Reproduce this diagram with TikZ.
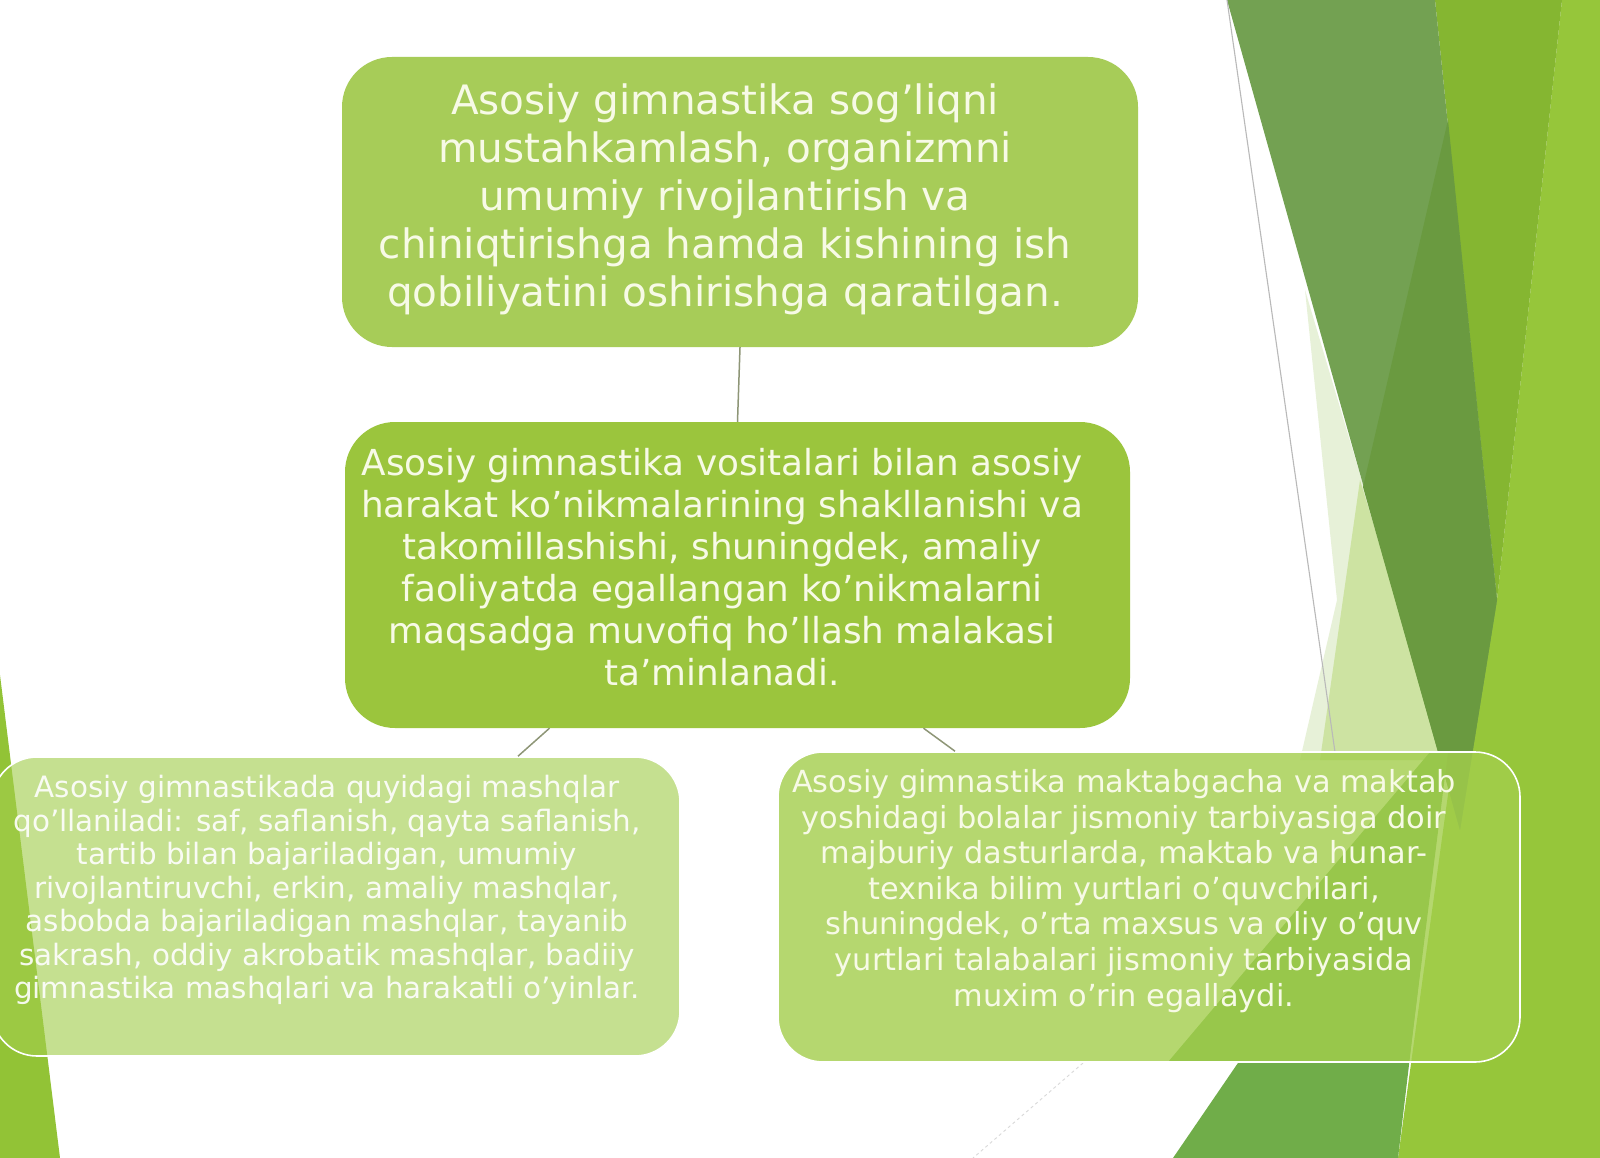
\documentclass[tikz,border=0pt]{standalone}
\usepackage{fontspec}
\setmainfont{DejaVu Sans}
\usetikzlibrary{calc}
\definecolor{topgreen}{HTML}{A7CC58}
\definecolor{midgreen}{HTML}{9BC53D}
\definecolor{boxgreen}{HTML}{A3CE4C}
\definecolor{txtcream}{HTML}{F7FAE6}
\definecolor{conncol}{HTML}{8E9677}
\definecolor{bgbright}{HTML}{96C63A}
\definecolor{bgmedium}{HTML}{85B631}
\definecolor{bgdarkA}{HTML}{73A152}
\definecolor{bgdarkB}{HTML}{6A9A40}
\definecolor{bgbottom}{HTML}{70AD49}
\definecolor{bgpale}{HTML}{E7F1D8}
\definecolor{bglight}{HTML}{CDE3A2}
\definecolor{bgleft}{HTML}{92C336}
\begin{document}
\begin{tikzpicture}[x=1pt,y=-1pt,
  bigbox/.style={rectangle, rounded corners=50pt, inner sep=0pt, draw=none},
  lowbox/.style={rectangle, rounded corners=45pt, inner sep=0pt, draw=white, line width=1.6pt, fill=boxgreen},
  conn/.style={draw=conncol, line width=1.5pt},
  txt/.style={align=center, text=txtcream, inner sep=0pt}]
\useasboundingbox (0,0) rectangle (1600,1158);
\begin{scope}
\clip (0,0) rectangle (1600,1158);
\fill[white] (0,0) rectangle (1600,1158);
% background facets
\fill[bgbright] (1562,0) -- (1600,0) -- (1600,1158) -- (1398,1158) -- (1450,780) -- (1497,600) -- cycle;
\fill[bgmedium] (1435,0) -- (1562,0) -- (1497,600) -- cycle;
\fill[bgpale] (1305,290) -- (1445,760) -- (1300,760) -- (1337,600) -- cycle;
\fill[bglight] (1360,480) -- (1445,760) -- (1320,760) -- cycle;
\fill[bgdarkA] (1227,0) -- (1435,0) -- (1497,600) -- (1460,830) -- cycle;
\fill[bgdarkB] (1448,120) -- (1497,600) -- (1460,830) -- (1363,487) -- cycle;
\fill[bgbottom] (1173,1158) -- (1398,1158) -- (1445,760) -- cycle;
\fill[bgbottom] (1168,1062) -- (1430,752) -- (1448,752) -- (1409,1062) -- cycle;
\fill[bgleft] (0,675) -- (60,1158) -- (0,1158) -- cycle;
\draw[gray!55, line width=1.1pt] (1227,0) -- (1335,752);
\draw[gray!30, line width=0.9pt, dashed] (1083,1063) -- (973,1158);

% boxes
\node[bigbox, fill=topgreen, minimum width=796pt, minimum height=290pt] (top) at (740,202) {};
\node[bigbox, fill=midgreen, minimum width=785pt, minimum height=306pt] (mid) at (737.5,575) {};
\node[lowbox, fill opacity=0.62, minimum width=688pt, minimum height=299pt] (bl) at (336,906.5) {};
\node[lowbox, fill opacity=0.8, minimum width=742pt, minimum height=310pt] (br) at (1149,907) {};

% connectors
\draw[conn] (top.south) -- (mid.north);
\draw[conn] ($(mid.south)+(-188,0)$) -- ($(bl.north)+(182,0)$);
\draw[conn] ($(mid.south)+(186,0)$) -- ($(br.north)+(-194,0)$);

% texts
\node[txt, font=\fontsize{40.5}{48}\selectfont] (toptext) at (725,199)
 {Asosiy gimnastika sog’liqni\\mustahkamlash, organizmni\\umumiy rivojlantirish va\\chiniqtirishga hamda kishining ish\\qobiliyatini oshirishga qaratilgan.};
\node[txt, font=\fontsize{35.8}{42}\selectfont] (midtext) at (722,567)
 {Asosiy gimnastika vositalari bilan asosiy\\harakat ko’nikmalarining shakllanishi va\\takomillashishi, shuningdek, amaliy\\faoliyatda egallangan ko’nikmalarni\\maqsadga muvofiq ho’llash malakasi\\ta’minlanadi.};
\node[txt, text=white, text opacity=0.9, font=\fontsize{29.4}{33.5}\selectfont] (bltext) at (327,890)
 {Asosiy gimnastikada quyidagi mashqlar\\qo’llaniladi: saf, saflanish, qayta saflanish,\\tartib bilan bajariladigan, umumiy\\rivojlantiruvchi, erkin, amaliy mashqlar,\\asbobda bajariladigan mashqlar, tayanib\\sakrash, oddiy akrobatik mashqlar, badiiy\\gimnastika mashqlari va harakatli o’yinlar.};
\node[txt, font=\fontsize{30.4}{35.6}\selectfont] (brtext) at (1124,891)
 {Asosiy gimnastika maktabgacha va maktab\\yoshidagi bolalar jismoniy tarbiyasiga doir\\majburiy dasturlarda, maktab va hunar-\\texnika bilim yurtlari o’quvchilari,\\shuningdek, o’rta maxsus va oliy o’quv\\yurtlari talabalari jismoniy tarbiyasida\\muxim o’rin egallaydi.};
\end{scope}
\end{tikzpicture}
\end{document}
